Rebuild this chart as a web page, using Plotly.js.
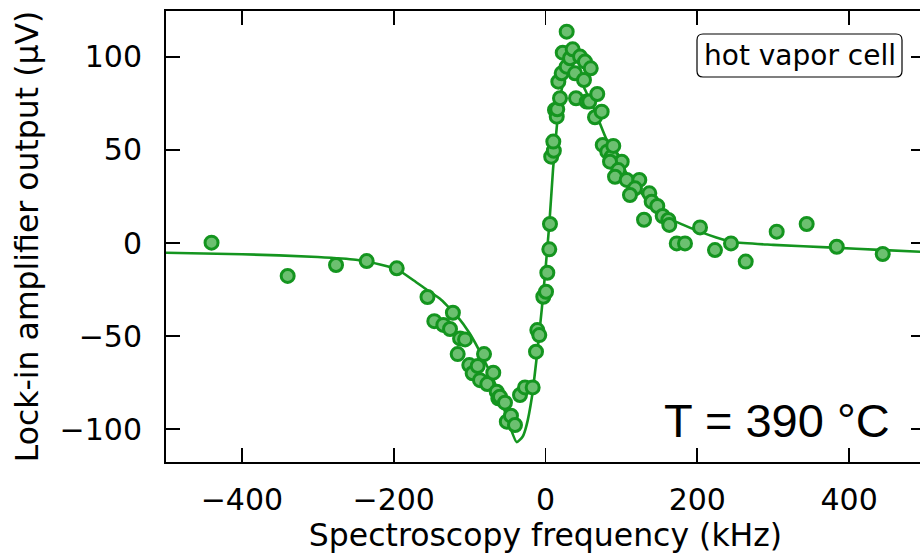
<!DOCTYPE html>
<html>
<head>
<meta charset="utf-8">
<script src="https://cdn.plot.ly/plotly-3.0.1.min.js"></script>
<style>
  html, body { margin: 0; padding: 0; background: #fff; overflow: hidden; }
  #chart { width: 926px; height: 553px; }
</style>
</head>
<body>
<div id="chart"></div>
<script>
// Measured data points (kHz, µV)
const freq = [-440, -339.7, -276, -235.6, -196, -155.5, -146.5, -134.6, -125.8, -122,
  -115.7, -112.6, -106, -100.4, -96, -89.3, -86.3, -81, -76.7, -68.8,
  -64.3, -62.2, -60, -53.4, -51, -45.5, -40.2, -33.6, -27, -16.9,
  -12.5, -10.8, -8.2, -2.9, 0.7, 2.4, 5, 5.9, 7.5, 11,
  10.3, 12.5, 14.8, 15.5, 19.1, 16.9, 21.3, 22.7, 27.9, 27.9,
  32.3, 35.8, 38.9, 40.2, 45.5, 50.7, 52, 54.3, 57.7, 59.6,
  65.2, 68.2, 74, 75.4, 81.4, 87.2, 89.3, 100.4, 85, 95.9,
  91.6, 107, 123.6, 117.9, 111.3, 136.8, 139.9, 147.3, 154.4, 161.8,
  163.1, 129.8, 172.9, 183.8, 203.6, 223.3, 244.4, 263.8, 304.6, 344.1,
  383.7, 444.3];
const signal = [0.2, -17.7, -11.8, -9.7, -13.6, -29, -42, -44, -46.2, -37.5,
  -59.7, -51.3, -51.8, -65.6, -70, -66.1, -73.7, -59.7, -75.8, -69.7,
  -79.9, -83.5, -82.6, -85.8, -96, -92.8, -97.8, -81.7, -77.6, -77.6,
  -58.4, -46.8, -49.5, -28.9, -26.2, -16, -3.4, 10.2, 46.4, 49.6,
  54.5, 71.5, 67.9, 71.9, 77.8, 86.7, 91.2, 102.3, 94.8, 113.6,
  99.3, 104.1, 91.2, 77.8, 100.2, 87.6, 97.5, 76, 76, 93.9,
  67.6, 80.1, 70.6, 52.7, 49.1, 46.4, 52.2, 43.7, 43.7, 39.2,
  35.6, 33.9, 33.9, 29.4, 25.8, 26.7, 22.2, 19.9, 14.5, 12.4,
  9.7, 12.5, -0.2, -0.2, 8.4, -3.8, -0.2, -10, 6.1, 10.2,
  -2, -5.9];

// Fit curve
const fitFreq = [-500, -400, -300, -250, -218, -196, -174, -155, -139, -130,
  -117, -100, -82, -64, -49, -38, -30, -25, -18, -12,
  -5, 0, 5, 10, 15, 20, 27, 35, 45, 55,
  62, 70, 80, 90, 100, 116, 135, 160, 180, 204,
  225, 247, 300, 379, 440, 500];
const fitSignal = [-5.2, -6, -7.5, -9, -11.5, -14, -20, -25.5, -30, -33.5,
  -39, -48.5, -62, -78, -96, -107, -104, -98, -83, -63,
  -36, -14, 10, 40, 63, 80, 90, 93, 88, 80,
  74, 66, 56, 49, 42, 32, 23, 14, 10, 6,
  3, 0.5, -1, -2.5, -3.7, -4.8];

const xTicks = [-400, -200, 0, 200, 400];
const yTicks = [-100, -50, 0, 50, 100];
const xTitle = 'Spectroscopy frequency (kHz)';
const yTitle = 'Lock-in amplifier output (μV)';
const boxLabel = 'hot vapor cell';
const tempLabel = 'T = 390 °C';

const green = '#14951f';
const font = 'DejaVu Sans, sans-serif';

const traces = [
  {
    x: fitFreq, y: fitSignal, type: 'scatter', mode: 'lines',
    line: { color: green, width: 2.6, shape: 'spline', smoothing: 0.6 },
    hoverinfo: 'skip', showlegend: false
  },
  {
    x: freq, y: signal, type: 'scatter', mode: 'markers',
    marker: { size: 13, color: '#6cc070', line: { color: green, width: 3 } },
    showlegend: false
  }
];

const W = 926, H = 553, L = 166, R = 1, T = 11, B = 91;
const pw = W - L - R, ph = H - T - B;
function px2x(p) { return (p - L) / pw; }
function py2y(p) { return (H - B - p) / ph; }

// rounded box for label
const bx0 = px2x(697), bx1 = px2x(902), by0 = py2y(77), by1 = py2y(34);
const rx = 6 / pw, ry = 6 / ph;
const boxPath = `M ${bx0 + rx} ${by0} L ${bx1 - rx} ${by0} Q ${bx1} ${by0} ${bx1} ${by0 + ry} ` +
  `L ${bx1} ${by1 - ry} Q ${bx1} ${by1} ${bx1 - rx} ${by1} L ${bx0 + rx} ${by1} ` +
  `Q ${bx0} ${by1} ${bx0} ${by1 - ry} L ${bx0} ${by0 + ry} Q ${bx0} ${by0} ${bx0 + rx} ${by0} Z`;

const axisCommon = {
  showgrid: false, zeroline: false,
  showline: true, linecolor: '#000', linewidth: 2, mirror: 'ticks',
  ticks: 'inside', ticklen: 14, tickwidth: 1.6, tickcolor: '#000',
  tickfont: { family: font, size: 30, color: '#000' }
};

const layout = {
  width: W, height: H,
  margin: { l: L, r: R, t: T, b: B },
  paper_bgcolor: '#fff', plot_bgcolor: '#fff',
  xaxis: Object.assign({}, axisCommon, {
    range: [-500, 500], tickvals: xTicks, ticktext: xTicks.map(v => v < 0 ? '\u2212' + Math.abs(v) : String(v)),
    ticklabelstandoff: 10,
    title: { text: xTitle, font: { family: font, size: 31.5, color: '#000' }, standoff: 14 }
  }),
  yaxis: Object.assign({}, axisCommon, {
    range: [-117.7, 124.7], tickvals: yTicks, ticktext: yTicks.map(v => v < 0 ? '\u2212' + Math.abs(v) : String(v)),
    ticklabelstandoff: 16,
    title: { text: yTitle, font: { family: font, size: 31.5, color: '#000' }, standoff: 12 }
  }),
  shapes: [
    { type: 'path', xref: 'paper', yref: 'paper', path: boxPath,
      line: { color: '#000', width: 1.2 }, fillcolor: 'rgba(255,255,255,0.9)' }
  ],
  annotations: [
    { xref: 'paper', yref: 'paper', x: px2x(799.5), y: py2y(55.5), xanchor: 'center', yanchor: 'middle',
      text: boxLabel, showarrow: false, font: { family: font, size: 28, color: '#000' } },
    { xref: 'paper', yref: 'paper', x: px2x(776.5), y: py2y(420), xanchor: 'center', yanchor: 'middle',
      text: tempLabel, showarrow: false, font: { family: 'Liberation Sans, Arial, sans-serif', size: 47, color: '#000' } }
  ]
};

Plotly.newPlot('chart', traces, layout, { displayModeBar: false, staticPlot: true });
</script>
</body>
</html>
